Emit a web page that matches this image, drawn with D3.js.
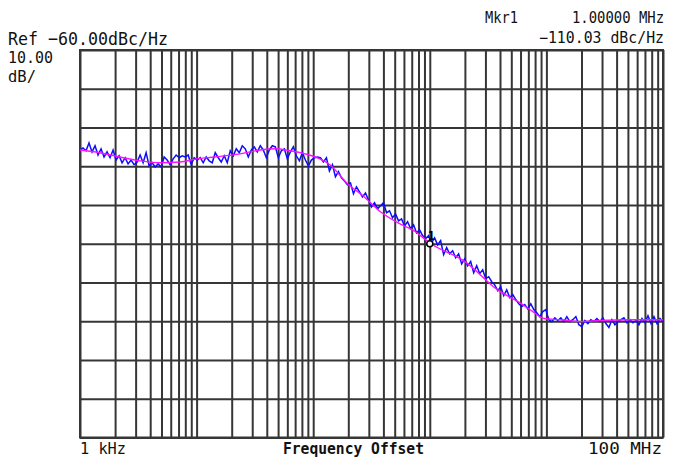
<!DOCTYPE html>
<html>
<head>
<meta charset="utf-8">
<script src="https://cdn.jsdelivr.net/npm/d3@7"></script>
<style>
  body { margin: 0; background: #fff; }
  text { font-family: "DejaVu Sans Mono", monospace; fill: #111; }
  .grid line { stroke: #363636; stroke-width: 2; }
  .grid path { display: none; }
</style>
</head>
<body>
<svg id="chart"></svg>
<script>
// sweep: 1 kHz .. 100 MHz, log spaced points
const sweepStart = 1e3;
const sweepStop = 1e8;
const sweepPoints = 195;

// measured trace (dBc/Hz), one value per sweep point
const traceValues = [
  -85.8, -85.3, -86.0, -84.0, -86.3, -84.7, -87.1, -85.5, -87.6, -86.3,
  -87.8, -85.8, -88.4, -87.3, -89.1, -87.8, -89.4, -88.4, -89.6, -88.9,
  -87.1, -89.1, -86.5, -89.9, -89.1, -90.2, -89.4, -90.2, -87.6, -88.4,
  -89.6, -88.1, -87.1, -87.8, -87.3, -87.6, -87.1, -89.6, -87.8, -88.4,
  -87.8, -89.1, -87.6, -88.6, -89.1, -86.5, -87.8, -88.9, -87.3, -89.1,
  -86.0, -87.3, -85.5, -86.5, -84.7, -85.5, -87.6, -85.8, -85.0, -86.3,
  -84.7, -85.8, -87.8, -85.8, -84.7, -85.0, -87.8, -86.0, -85.5, -88.1,
  -86.3, -85.0, -87.3, -88.6, -86.5, -88.4, -89.9, -88.4, -87.8, -87.6,
  -87.8, -88.9, -87.8, -91.2, -89.6, -92.7, -91.4, -93.0, -93.8, -94.8,
  -94.3, -97.1, -95.3, -96.6, -97.9, -96.9, -98.7, -100.5, -99.4, -101.0,
  -100.2, -99.4, -102.0, -101.5, -103.3, -102.3, -104.1, -103.6, -105.4, -104.3,
  -106.1, -105.1, -107.2, -106.4, -107.9, -108.7, -107.9, -109.7, -108.5, -110.3,
  -109.2, -112.8, -111.0, -112.6, -111.8, -113.6, -112.6, -115.2, -113.9, -115.7,
  -114.6, -117.5, -115.7, -117.7, -116.7, -119.0, -118.5, -119.8, -120.6, -122.1,
  -121.1, -123.4, -121.9, -123.9, -123.1, -124.4, -125.5, -126.2, -125.7, -126.8,
  -125.5, -127.0, -127.8, -128.8, -127.5, -127.0, -129.6, -130.1, -129.1, -129.8,
  -129.1, -130.1, -128.8, -130.1, -129.6, -128.8, -130.9, -131.4, -129.8, -130.6,
  -129.6, -130.1, -129.3, -130.1, -129.1, -130.6, -131.6, -129.6, -130.9, -130.1,
  -129.6, -129.1, -130.4, -129.6, -130.4, -129.8, -130.9, -129.3, -130.4, -128.6,
  -130.6, -128.8, -130.6, -129.3, -130.1
];

// smoothed trace
const smoothFreq = [1e3, 1.48e3, 2.2e3, 3.27e3, 4.85e3, 7.2e3, 1e4, 1.44e4, 2.36e4, 3.5e4,
  4.7e4, 6.3e4, 8.5e4, 1.14e5, 1.39e5, 1.94e5, 2.67e5, 3.8e5, 5.5e5, 7.3e5,
  1e6, 2e6, 3.9e6, 5.9e6, 7.5e6, 9.6e6, 1.32e7, 1.94e7, 2.9e7, 5.2e7, 1e8];
const smoothValues = [-85.8, -86.5, -87.6, -88.6, -89.1, -88.9, -88.1, -87.6, -86.8, -85.8,
  -85.5, -86.0, -86.8, -88.1, -89.6, -94.3, -97.6, -101.8, -104.8, -106.6,
  -109.8, -114.6, -122.1, -125.2, -127.3, -129.3, -129.6, -130.1, -129.8, -129.6, -129.6];

const markerFreq = 1e6;
const markerValue = -110.03;

const refLevel = -60;
const dbPerDiv = 10;
const divisions = 10;

const width = 673;
const height = 466;
const plotLeft = 80, plotRight = 663, plotTop = 50, plotBottom = 437.5;

const svg = d3.select("#chart").attr("width", width).attr("height", height);

const xScale = d3.scaleLog().domain([sweepStart, sweepStop]).range([plotLeft, plotRight]);
const yScale = d3.scaleLinear()
  .domain([refLevel - dbPerDiv * divisions, refLevel])
  .range([plotBottom, plotTop]);

// grid lines
svg.append("g")
  .attr("class", "grid")
  .attr("transform", `translate(0, ${plotBottom})`)
  .call(d3.axisBottom(xScale).tickValues(xScale.ticks()).tickSize(-(plotBottom - plotTop)).tickFormat(""));

svg.append("g")
  .attr("class", "grid")
  .attr("transform", `translate(${plotLeft}, 0)`)
  .call(d3.axisLeft(yScale).ticks(divisions).tickSize(-(plotRight - plotLeft)).tickFormat(""));

// border
svg.append("rect")
  .attr("x", plotLeft).attr("y", plotTop)
  .attr("width", plotRight - plotLeft).attr("height", plotBottom - plotTop)
  .attr("fill", "none").attr("stroke", "#363636").attr("stroke-width", 2);

const sweepFreq = traceValues.map((v, i) =>
  Math.pow(10, Math.log10(sweepStart) + (Math.log10(sweepStop / sweepStart) * i) / (sweepPoints - 1))
);

const line = d3.line()
  .x((d) => xScale(d[0]))
  .y((d) => yScale(d[1]));

svg.append("path")
  .datum(traceValues.map((v, i) => [sweepFreq[i], v]))
  .attr("d", line)
  .attr("fill", "none")
  .attr("stroke", "#0c0cff")
  .attr("stroke-width", 1.5);

svg.append("path")
  .datum(smoothValues.map((v, i) => [smoothFreq[i], v]))
  .attr("d", line.curve(d3.curveMonotoneX))
  .attr("fill", "none")
  .attr("stroke", "#ff10ff")
  .attr("stroke-width", 1.4);

// marker
const mx = xScale(markerFreq), my = yScale(markerValue);
svg.append("circle")
  .attr("cx", mx).attr("cy", my)
  .attr("r", 3)
  .attr("fill", "#fff").attr("stroke", "#000").attr("stroke-width", 1.5);

svg.append("text")
  .attr("x", mx - 2).attr("y", my - 4)
  .attr("font-size", 12).attr("font-weight", "bold")
  .style("fill", "#000")
  .text("1");

// labels
const addText = (x, y, str, size, len, anchor, weight) => {
  const t = svg.append("text")
    .attr("x", x).attr("y", y)
    .attr("font-size", size)
    .attr("text-anchor", anchor || "start")
    .attr("font-weight", weight || "normal")
    .text(str);
  if (len) t.attr("textLength", len).attr("lengthAdjust", "spacingAndGlyphs");
  return t;
};

addText(8, 45, "Ref \u221260.00dBc/Hz", 18, 160);
addText(8, 63, "10.00", 16, 45);
addText(8, 82, "dB/", 16, 28);

addText(485, 23, "Mkr1", 15, 33);
addText(664, 23, "1.00000 MHz", 15, 92, "end");
addText(664, 43, "\u2212110.03 dBc/Hz", 15, 125, "end");

addText(80, 454, "1 kHz", 16, 46);
addText(283, 454, "Frequency Offset", 15, 141, "start", "bold");
addText(662, 454, "100 MHz", 16, 74, "end");
</script>
</body>
</html>
